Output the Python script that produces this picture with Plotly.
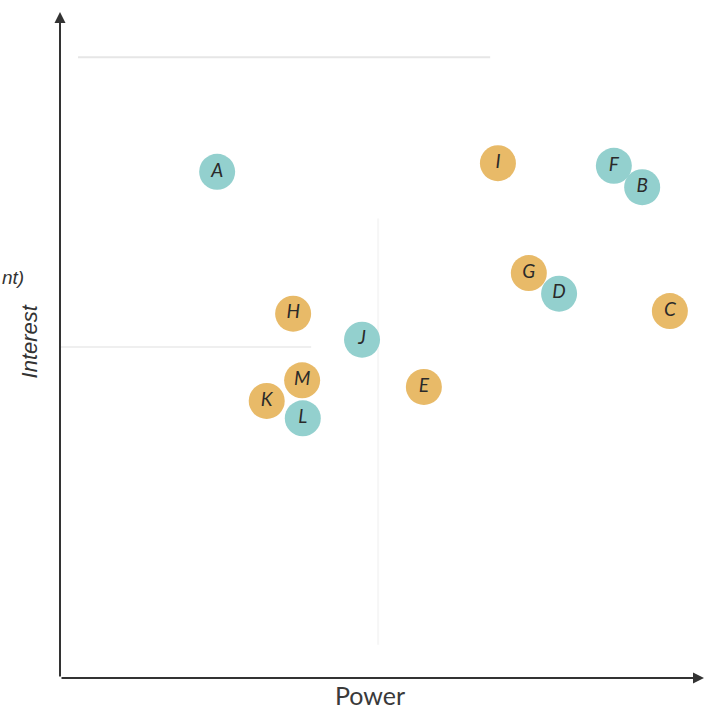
import plotly.graph_objects as go

# Stakeholder map: power (x) vs interest (y)
labels = ["A", "I", "F", "B", "G", "D", "C", "H", "J", "M", "K", "L", "E"]
power = [2.44, 6.80, 8.60, 9.04, 7.28, 7.75, 9.47, 3.62, 4.69, 3.76, 3.21, 3.77, 5.65]
interest = [7.60, 7.73, 7.69, 7.37, 6.08, 5.77, 5.51, 5.47, 5.08, 4.47, 4.16, 3.90, 4.37]
group = ["t", "o", "t", "t", "o", "t", "o", "o", "t", "o", "o", "t", "o"]

palette = {"t": "#93D0CE", "o": "#E8BA68"}

fig = go.Figure()
fig.add_trace(go.Scatter(
    x=power, y=interest, mode="markers+text",
    text=labels, textposition="middle center",
    textfont=dict(family="Lato", size=19, color="#2a2a2a", style="italic"),
    marker=dict(size=36, color=[palette[g] for g in group],
                line=dict(width=0)),
    hoverinfo="text", showlegend=False, cliponaxis=False,
))

# faint guide lines
guides = [
    dict(x0=0.28, x1=6.68, y0=9.32, y1=9.32, color="#e6e6e6", width=2),
    dict(x0=0.0, x1=3.9, y0=4.97, y1=4.97, color="#efefef", width=2),
    dict(x0=4.94, x1=4.94, y0=0.5, y1=6.9, color="#f6f6f6", width=2),
]
for g in guides:
    fig.add_shape(type="line", xref="x", yref="y", x0=g["x0"], x1=g["x1"],
                  y0=g["y0"], y1=g["y1"], line=dict(color=g["color"], width=g["width"]),
                  layer="below")

# axis arrows
fig.add_annotation(x=0, y=10, ax=0, ay=0, xref="x", yref="y", axref="x", ayref="y",
                   showarrow=True, arrowhead=2, arrowsize=1.1, arrowwidth=2,
                   arrowcolor="#333333", text="")
fig.add_annotation(x=10, y=0, ax=0, ay=0, xref="x", yref="y", axref="x", ayref="y",
                   showarrow=True, arrowhead=2, arrowsize=1.1, arrowwidth=2,
                   arrowcolor="#333333", text="")

# axis titles
fig.add_annotation(x=-0.047, y=0.505, xref="paper", yref="paper", text="Interest",
                   textangle=-90, showarrow=False, xanchor="center", yanchor="middle",
                   font=dict(family="Liberation Sans", size=22,
                             color="#333333", style="italic"))
fig.add_annotation(x=-0.093, y=6.02, xref="paper", yref="y", text="nt)",
                   showarrow=False, xanchor="left", yanchor="middle",
                   font=dict(family="Liberation Sans", size=19,
                             color="#333333", style="italic"))
fig.add_annotation(x=0.482, y=-0.026, xref="paper", yref="paper", text="Power",
                   showarrow=False, xanchor="center", yanchor="middle",
                   font=dict(family="Lato", size=25, color="#3a3a3a"))

fig.update_xaxes(range=[0, 10], showgrid=False, zeroline=False, showticklabels=False,
                 ticks="", showline=False, fixedrange=True)
fig.update_yaxes(range=[0, 10], showgrid=False, zeroline=False, showticklabels=False,
                 ticks="", showline=False, fixedrange=True)

fig.update_layout(
    width=704, height=713,
    margin=dict(l=60, r=0, t=12, b=35),
    plot_bgcolor="white", paper_bgcolor="white",
)

fig.write_html("out.html")
